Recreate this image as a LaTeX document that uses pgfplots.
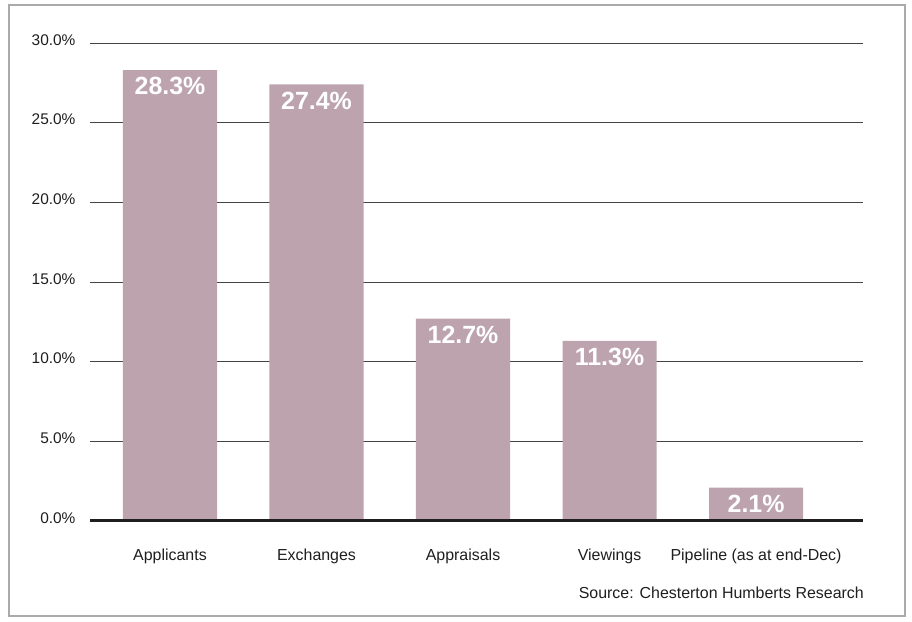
\documentclass[border=0pt]{standalone}
\usepackage{fontspec}
\setmainfont{Liberation Sans}
\usepackage{pgfplots}
\pgfplotsset{compat=1.18}
\definecolor{barc}{HTML}{BCA3AE}
\definecolor{framec}{HTML}{AAAAAA}
\definecolor{gridc}{HTML}{444444}
\definecolor{textc}{HTML}{1E1E1E}
\begin{document}
\begin{tikzpicture}[x=1bp,y=1bp]
\path (0,0) rectangle (912,622);
\draw[framec, line width=1.3bp] (9,6) rectangle (905,617);
\begin{axis}[
  at={(90bp,101bp)}, anchor=south west,
  scale only axis, width=773bp, height=478bp,
  xmin=-0.546, xmax=4.73, ymin=0, ymax=30,
  ybar, bar width=0.642, bar shift=0pt,
  axis line style={draw=none},
  major tick length=0pt,
  ytick={0,5,10,15,20,25,30},
  ymajorgrids, grid style={gridc, line width=0.9bp},
  xtick={0,1,2,3,4},
  xticklabels={Applicants, Exchanges, Appraisals, Viewings, Pipeline (as at end-Dec)},
  /pgf/number format/assume math mode=true,
  yticklabel={\pgfmathprintnumber[fixed,fixed zerofill,precision=1]{\tick}\%},
  yticklabel style={font=\fontsize{15.5}{18}\selectfont, text=textc, xshift=-11bp, yshift=3bp},
  xticklabel style={font=\fontsize{16}{19}\selectfont, text=textc, yshift=-24bp},
  nodes near coords={\pgfmathprintnumber[fixed,fixed zerofill,precision=1]{\pgfplotspointmeta}\%},
  nodes near coords style={anchor=north, yshift=-4bp, text=white, font=\bfseries\fontsize{25}{28}\selectfont},
  clip=false,
]
\addplot[fill=barc, draw=none] coordinates {(0,28.3) (1,27.4) (2,12.7) (3,11.3) (4,2.1)};
\draw[textc, line width=3bp] (axis cs:-0.546,0) -- (axis cs:4.73,0);
\end{axis}
\node[anchor=east, text=textc, font=\fontsize{16}{19}\selectfont, inner sep=0pt] at (864,29) {Source: Chesterton Humberts Research};
\end{tikzpicture}
\end{document}
